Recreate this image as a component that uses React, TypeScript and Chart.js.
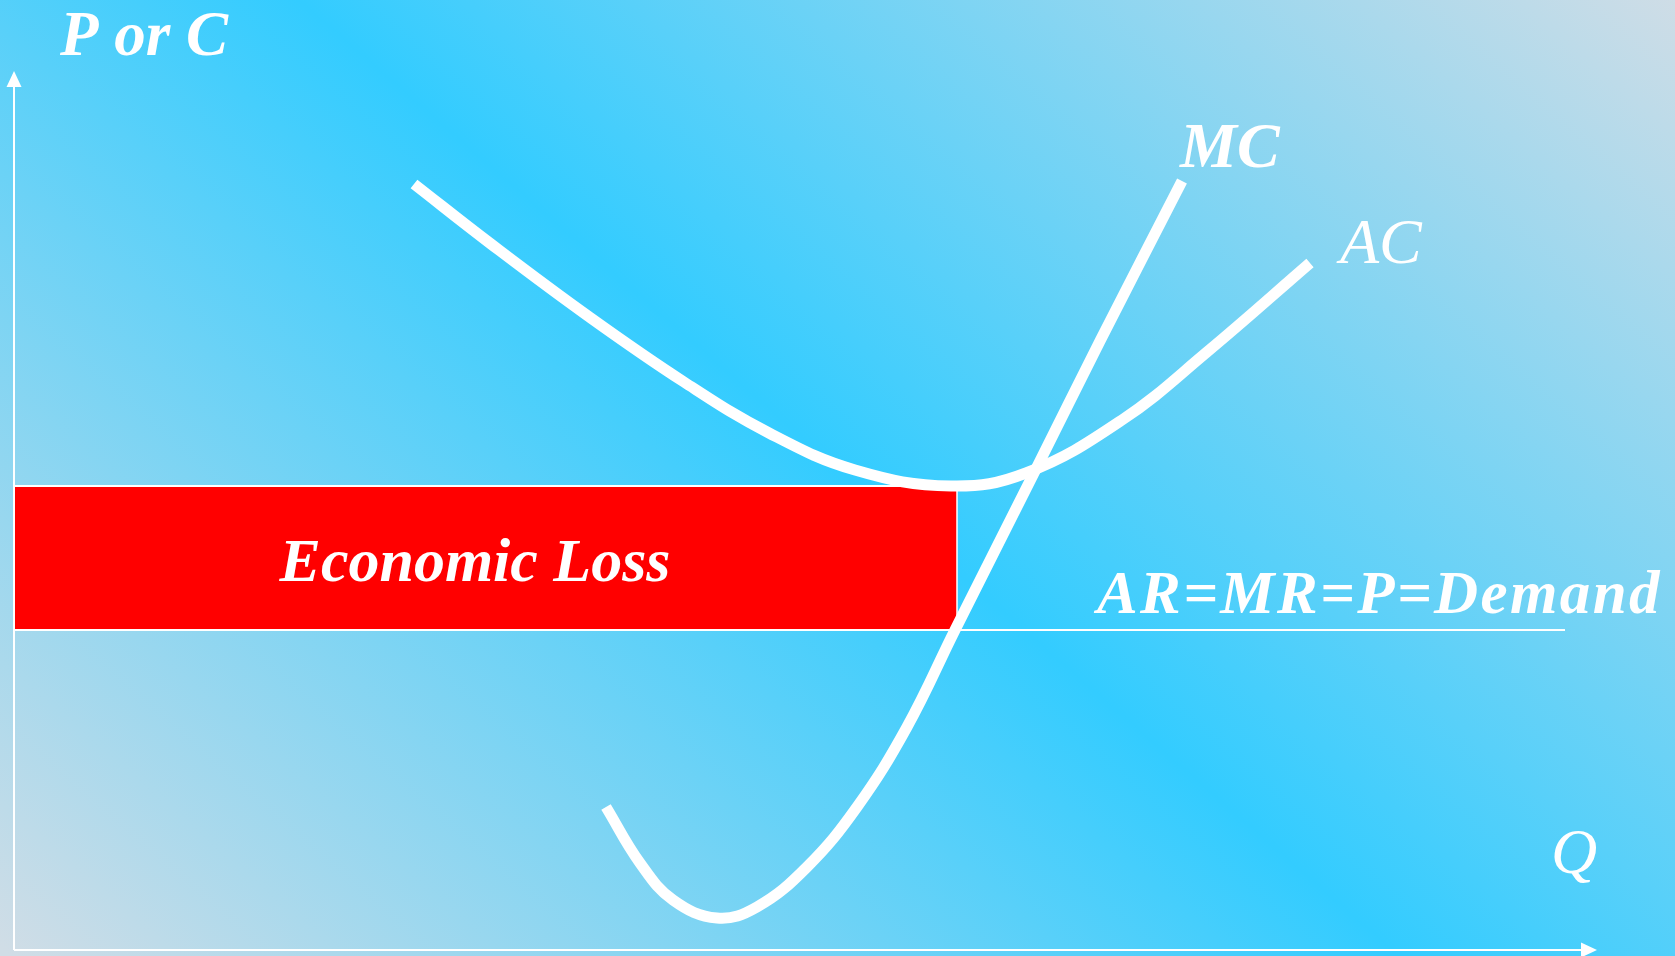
import React, { useEffect, useRef } from "react";
import { Chart, registerables } from "chart.js";

Chart.register(...registerables);

// ---- Data (Q on the x axis, P or C on the y axis) ----
const acQ = [40.0, 47.7, 57.4, 67.0, 75.5, 84.1, 93.7, 101.2, 110.8, 119.3, 129.6];
const acP = [76.6, 70.6, 63.4, 56.8, 51.7, 48.0, 46.4, 47.7, 53.0, 59.8, 68.7];

const mcQ = [59.2, 62.6, 65.9, 70.3, 74.3, 79.3, 84.3, 89.3, 94.1, 102.3, 108.6, 116.8];
const mcP = [14.3, 8.7, 5.0, 3.2, 4.3, 8.3, 14.3, 22.3, 32.0, 48.3, 60.9, 76.9];

const priceDemand = 32.0; // AR = MR = P
const costAtQStar = 46.4; // AC at the chosen output
const qStar = 94.3; // MC = MR
const demandEndQ = 155.1;

const xAxisEndQ = 158.3;
const yAxisEndP = 87.9;

const labelTexts = ["P or C", "MC", "AC", "AR=MR=P=Demand", "Economic Loss", "Q"];
const labelQ = [4.6, 116.6, 132.6, 108.3, 46.1, 153.7];
const labelP = [89.5, 78.3, 68.7, 33.7, 36.9, 7.7];

const labelFonts = [
  'italic bold 63px "Liberation Serif"',
  'italic bold 64px "Liberation Serif"',
  'italic 64px "Liberation Serif"',
  'italic bold 61px "Liberation Serif"',
  'italic bold 62px "Liberation Serif"',
  'italic 64px "Liberation Serif"',
];
const labelAlign: CanvasTextAlign[] = ["left", "left", "left", "left", "center", "left"];
const labelSpacing = ["0px", "0px", "0px", "2.4px", "0px", "0px"];

const W = 1675;
const H = 956;

const zip = (xs: number[], ys: number[]) => xs.map((x, i) => ({ x, y: ys[i] }));

const backgroundPlugin = {
  id: "bgGradient",
  beforeDraw(chart: any) {
    const { ctx, width, height } = chart;
    const cx = width * 0.507;
    const cy = height * 0.5;
    const ux = 0.656;
    const uy = -0.755;
    const d = 910;
    const g = ctx.createLinearGradient(cx - ux * d, cy - uy * d, cx + ux * d, cy + uy * d);
    g.addColorStop(0, "#d0dde6");
    g.addColorStop(0.5, "#33ccff");
    g.addColorStop(1, "#d0dde6");
    ctx.save();
    ctx.fillStyle = g;
    ctx.fillRect(0, 0, width, height);
    ctx.restore();
  },
};

const decorPlugin = {
  id: "decor",
  afterDatasetsDraw(chart: any) {
    const { ctx } = chart;
    const xs = chart.scales.x;
    const ys = chart.scales.y;
    const px = (q: number) => xs.getPixelForValue(q);
    const py = (p: number) => ys.getPixelForValue(p);
    ctx.save();
    ctx.fillStyle = "#ffffff";
    // arrow heads
    const len = 16;
    const hw = 7.5;
    const tx = px(xAxisEndQ);
    const ty = py(0);
    ctx.beginPath();
    ctx.moveTo(tx, ty);
    ctx.lineTo(tx - len, ty - hw);
    ctx.lineTo(tx - len, ty + hw);
    ctx.closePath();
    ctx.fill();
    const ux = px(0);
    const uy = py(yAxisEndP);
    ctx.beginPath();
    ctx.moveTo(ux, uy);
    ctx.lineTo(ux - hw, uy + len);
    ctx.lineTo(ux + hw, uy + len);
    ctx.closePath();
    ctx.fill();
    // labels
    ctx.textBaseline = "alphabetic";
    labelTexts.forEach((t, i) => {
      ctx.font = labelFonts[i];
      ctx.textAlign = labelAlign[i];
      (ctx as any).letterSpacing = labelSpacing[i];
      ctx.fillText(t, px(labelQ[i]), py(labelP[i]));
    });
    ctx.restore();
  },
};

export default function App() {
  const ref = useRef<HTMLCanvasElement | null>(null);

  useEffect(() => {
    document.body.style.margin = "0";
    const canvas = ref.current;
    if (!canvas) return;
    const white = "#ffffff";
    const base = { pointRadius: 0, clip: false as any, fill: false, borderColor: white, tension: 0 };
    const chart = new Chart(canvas, {
      type: "line",
      data: {
        datasets: [
          { ...base, label: "MC", data: zip(mcQ, mcP), borderWidth: 11, tension: 0.4 },
          { ...base, label: "AC", data: zip(acQ, acP), borderWidth: 11, tension: 0.4 },
          { ...base, label: "Demand", data: [{ x: 0, y: priceDemand }, { x: demandEndQ, y: priceDemand }], borderWidth: 2 },
          { ...base, label: "edge", data: [{ x: qStar, y: costAtQStar }, { x: qStar, y: priceDemand }], borderWidth: 1.5 },
          { ...base, label: "xAxis", data: [{ x: 0, y: 0 }, { x: xAxisEndQ - 1, y: 0 }], borderWidth: 2 },
          { ...base, label: "yAxis", data: [{ x: 0, y: 0 }, { x: 0, y: yAxisEndP - 1 }], borderWidth: 2 },
          {
            ...base,
            label: "Economic Loss",
            data: [{ x: 0, y: costAtQStar }, { x: qStar, y: costAtQStar }],
            borderWidth: 2,
            fill: { value: priceDemand } as any,
            backgroundColor: "#ff0000",
          },
        ] as any,
      },
      options: {
        responsive: false,
        animation: false,
        events: [],
        layout: { padding: { left: 14, right: 0, top: 0, bottom: 6 } },
        plugins: { legend: { display: false }, tooltip: { enabled: false } },
        scales: {
          x: { type: "linear", display: false, min: 0, max: 166.1 },
          y: { type: "linear", display: false, min: 0, max: 95.0 },
        },
      },
      plugins: [backgroundPlugin, decorPlugin],
    });
    return () => chart.destroy();
  }, []);

  return (
    <div style={{ position: "absolute", left: 0, top: 0, width: W, height: H }}>
      <canvas ref={ref} width={W} height={H} style={{ display: "block", width: W, height: H }} />
    </div>
  );
}
